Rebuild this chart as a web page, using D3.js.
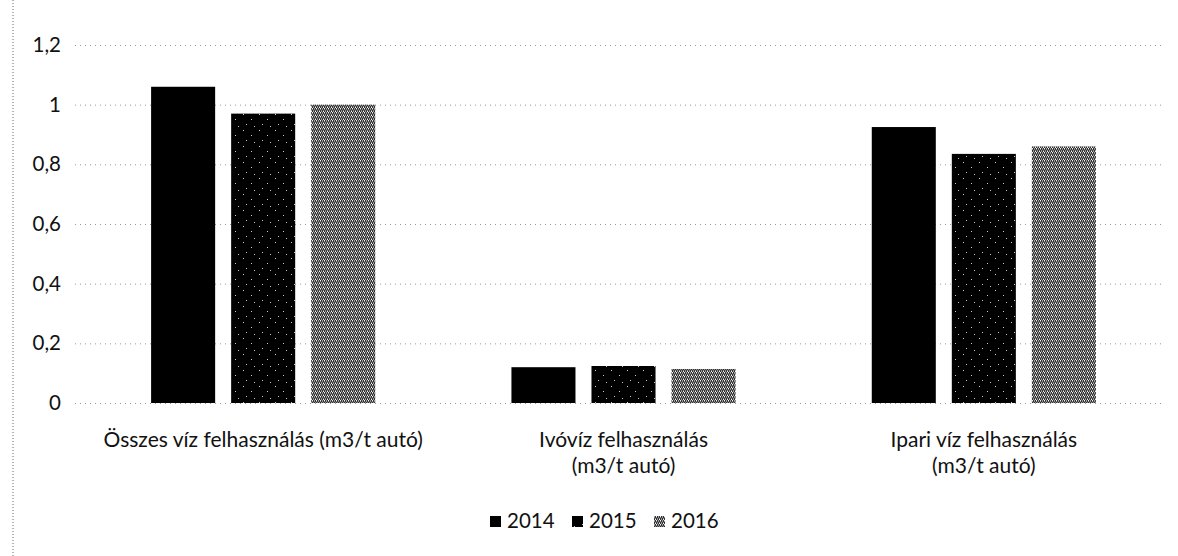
<!DOCTYPE html>
<html><head><meta charset="utf-8">
<script src="https://cdn.jsdelivr.net/npm/d3@7"></script>
<style>body{margin:0;background:#fff}svg{display:block}text{font-family:Lato,sans-serif;fill:#111}</style>
</head><body>
<script>
const categories = [["Összes víz felhasználás (m3/t autó)"], ["Ivóvíz felhasználás", "(m3/t autó)"], ["Ipari víz felhasználás", "(m3/t autó)"]];
const years = ["2014", "2015", "2016"];
const v2014 = [1.06, 0.12, 0.925];
const v2015 = [0.97, 0.124, 0.835];
const v2016 = [1.0, 0.114, 0.86];
const yTicks = [0, 0.2, 0.4, 0.6, 0.8, 1, 1.2];
const yLabels = ["0", "0,2", "0,4", "0,6", "0,8", "1", "1,2"];
const series = [v2014, v2015, v2016];

const W = 1178, H = 556;
const svg = d3.select("body").append("svg").attr("width", W).attr("height", H);
const defs = svg.append("defs");
const p1 = defs.append("pattern").attr("id","p2015").attr("patternUnits","userSpaceOnUse").attr("width",16).attr("height",16);
p1.append("rect").attr("width",16).attr("height",16).attr("fill","#000");
[[3,2],[11,7],[6,12],[14,14]].forEach(([x,y])=>p1.append("rect").attr("x",x).attr("y",y).attr("width",1).attr("height",1).attr("fill","#ccc"));
const p2 = defs.append("pattern").attr("id","p2016").attr("patternUnits","userSpaceOnUse").attr("width",4).attr("height",4);
p2.append("rect").attr("width",4).attr("height",4).attr("fill","#fff");
p2.append("path").attr("d","M0,4 L2,0 M2,4 L4,0").attr("stroke","#222").attr("stroke-width",1.3);
const fills = ["#000", "url(#p2015)", "url(#p2016)"];

const y = d3.scaleLinear().domain([0, 1.2]).range([403, 45]);
const x0 = d3.scaleBand().domain(d3.range(categories.length)).range([83, 1164]).paddingInner(0.378).paddingOuter(0.189);
const x1 = d3.scaleBand().domain(d3.range(years.length)).range([0, x0.bandwidth()]).paddingInner(0.2);

svg.append("line").attr("x1",13).attr("x2",13).attr("y1",0).attr("y2",H).attr("stroke","#666").attr("stroke-dasharray","1,2");

svg.append("g").selectAll("line").data(yTicks).join("line")
  .attr("x1",75).attr("x2",1165).attr("y1",d=>y(d)+0.5).attr("y2",d=>y(d)+0.5)
  .attr("stroke","#999").attr("stroke-dasharray","1,4");

const yAxis = d3.axisLeft(y).tickValues(yTicks).tickFormat((d,i)=>yLabels[i]).tickSize(0).tickPadding(0);
const ya = svg.append("g").attr("transform","translate(61,0)").call(yAxis);
ya.select(".domain").remove();
ya.selectAll("text").style("font-size","20.5px").style("font-family","Lato,sans-serif").attr("fill","#111");

const g = svg.append("g");
series.forEach((vals, si) => {
  g.selectAll(".b"+si).data(vals).join("rect")
    .attr("x",(d,i)=>x0(i)+x1(si)).attr("width",x1.bandwidth())
    .attr("y",d=>y(d)).attr("height",d=>y(0)-y(d)).attr("fill",fills[si]);
});

categories.forEach((lines, i) => {
  const cx = x0(i)+x0.bandwidth()/2;
  lines.forEach((l,j)=>svg.append("text").attr("text-anchor","middle").attr("x",cx).attr("y",447+25.5*j).style("font-size","21px").text(l));
});

const legX = [490, 572, 654];
years.forEach((yr,i)=>{
  svg.append("rect").attr("x",legX[i]).attr("y",516).attr("width",11).attr("height",11).attr("fill",fills[i]);
  svg.append("text").attr("x",legX[i]+17).attr("y",528).style("font-size","20.5px").text(yr);
});
</script>
</body></html>
